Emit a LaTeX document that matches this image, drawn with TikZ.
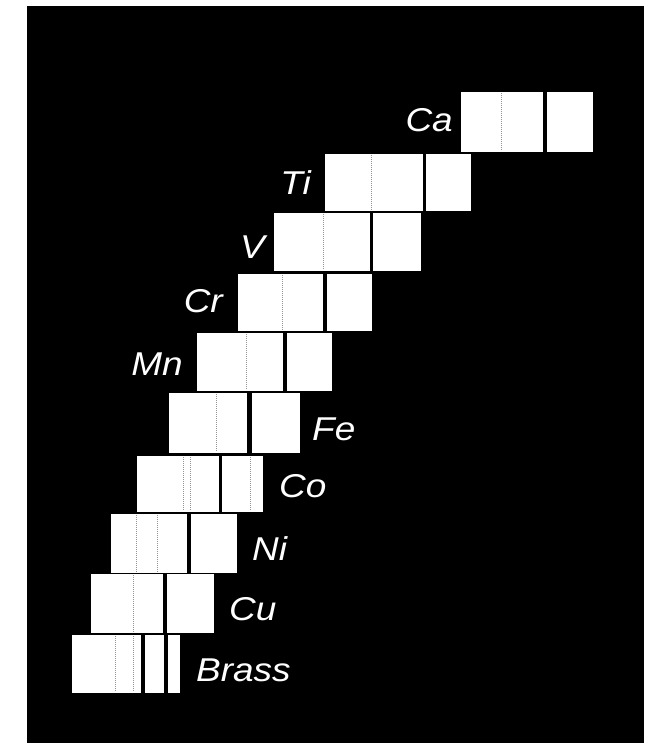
\documentclass[tikz,border=0pt]{standalone}
\usepackage{fontspec}
\setmainfont{Liberation Sans}
\begin{document}
\begin{tikzpicture}[x=1pt,y=-1pt,
  seg/.style={fill=white},
  dotline/.style={draw=gray!85,line width=1pt,dash pattern=on 1pt off 1pt},
  lbl/.style={text=white,inner sep=0pt,font=\fontsize{33}{33}\selectfont\itshape,xscale=1.12}]
\useasboundingbox (0,0) rectangle (658,743);
\fill[white] (0,0) rectangle (658,743);
\fill[black] (27,6) rectangle (644,743);
% rows: y-top, y-bottom, segments, dotted lines
\newcommand{\rowbox}[4]{%
  \foreach \a/\b in {#3} {\fill[seg] (\a,#1) rectangle (\b,#2);}
  \foreach \d in {#4} {\draw[dotline] (\d,#1+1) -- (\d,#2-1);}
}
\rowbox{92}{152}{461/543,547/593}{501}
\rowbox{154}{211}{325/423,426/471}{371}
\rowbox{213}{271}{274/370,373/421}{323}
\rowbox{274}{331}{238/323,327/372}{282}
\rowbox{333}{391}{197/283,287/332}{246}
\rowbox{393}{453}{169/247,252/300}{216}
\rowbox{456}{512}{137/219,222/263}{183,190,250}
\rowbox{514}{573}{111/187,191/237}{136,157}
\rowbox{574}{633}{91/163,167/214}{133}
\rowbox{635}{693}{72/141,145/164,168/180}{115,133}
% labels
\node[lbl,anchor=base east] (ca) at (453,132) {Ca};
\node[lbl,anchor=base east] (ti) at (311,195) {Ti};
\node[lbl,anchor=base east] (v) at (265,258) {V};
\node[lbl,anchor=base east] (cr) at (223,312) {Cr};
\node[lbl,anchor=base east] (mn) at (183,375) {Mn};
\node[lbl,anchor=base west] (fe) at (312,440) {Fe};
\node[lbl,anchor=base west] (co) at (279,497) {Co};
\node[lbl,anchor=base west] (ni) at (252,560) {Ni};
\node[lbl,anchor=base west] (cu) at (229,620) {Cu};
\node[lbl,anchor=base west] (brass) at (196,681) {Brass};
\end{tikzpicture}
\end{document}
